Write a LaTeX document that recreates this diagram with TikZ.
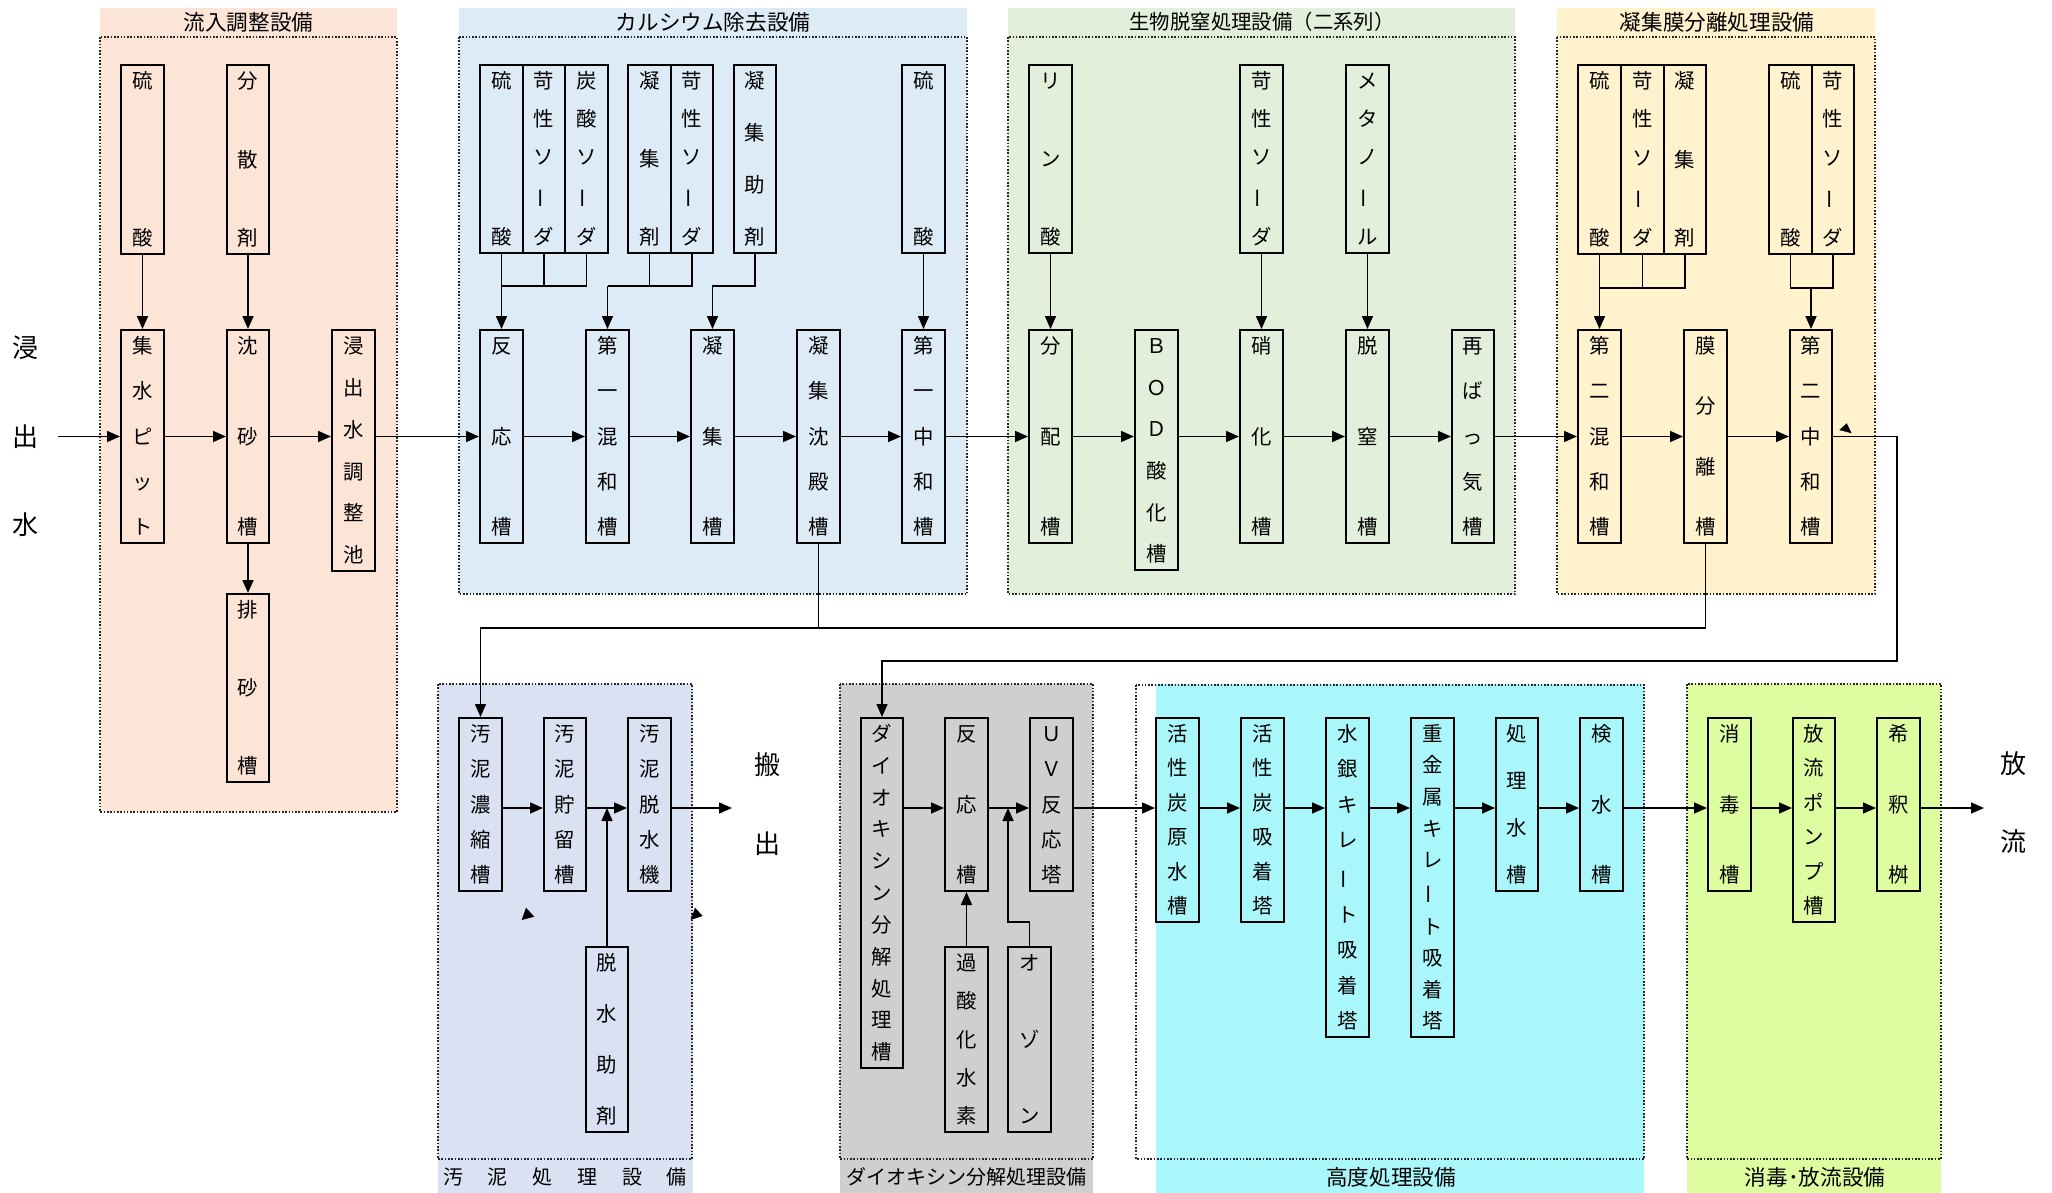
\documentclass[tikz,border=0pt]{standalone}
\usepackage{fontspec}
\setmainfont{Noto Sans CJK JP}
\usepackage{graphicx}
\usetikzlibrary{arrows.meta}
\definecolor{cA}{RGB}{252,228,214}
\definecolor{cB}{RGB}{221,235,247}
\definecolor{cC}{RGB}{226,239,218}
\definecolor{cD}{RGB}{255,242,204}
\definecolor{cE}{RGB}{217,225,242}
\definecolor{cF}{RGB}{208,206,206}
\definecolor{cG}{RGB}{170,247,251}
\definecolor{cH}{RGB}{221,253,160}
\newcommand\vb{\rotatebox[origin=c]{90}{ー}}
\newcommand\vtx[2]{\vbox to #1{\offinterlineskip\foreach \tkc [count=\tki] in {#2}{\ifnum\tki>1 \vfill\fi\hbox to 11pt{\hss\vrule width 0pt height 8.8pt depth 1.2pt\tkc\hss}}}}
\newcommand\tank[6]{%
 \pgfmathsetlengthmacro\tkw{(#4-#2)*0.5pt}%
 \pgfmathsetlengthmacro\tkh{(#5-#3)*0.5pt}%
 \pgfmathsetlengthmacro\tkv{(#5-#3-14)*0.5pt}%
 \node[tank, minimum width=\tkw, minimum height=\tkh] (#1) at ({(#2+#4)/2},{(#3+#5)/2}) {\vtx{\tkv}{#6}};}
\tikzset{
 tank/.style={draw, line width=1pt, inner sep=0pt, font=\fontsize{10.2pt}{12pt}\selectfont},
 arr/.style={line width=0.8pt, -{Triangle[length=6.5pt,width=5.5pt]}},
 ln/.style={line width=0.8pt},
 sect/.style={line width=0.8pt, dash pattern=on 0.8pt off 0.85pt, black!85},
 ttl/.style={inner sep=0pt, font=\fontsize{10.8pt}{12pt}\selectfont},
 big/.style={inner sep=0pt, align=center},
}
\begin{document}
\begin{tikzpicture}[x=0.5pt,y=-0.5pt]
\fill[white] (0,0) rectangle (2052,1193);
\useasboundingbox (0,0) rectangle (2052,1193);
% ---------- section backgrounds ----------
\fill[cA] (100,8) rectangle (397,812);
\draw[sect] (100,37) rectangle (397,812);
\fill[cB] (459,8) rectangle (967,594);
\draw[sect] (459,37) rectangle (967,594);
\fill[cC] (1008,8) rectangle (1515,594);
\draw[sect] (1008,37) rectangle (1515,594);
\fill[cD] (1557,8) rectangle (1875,594);
\draw[sect] (1557,37) rectangle (1875,594);
\fill[cE] (438,684) rectangle (693,1193);
\draw[sect] (438,684) rectangle (692,1159);
\fill[cF] (840,684) rectangle (1093,1193);
\draw[sect] (840,684) rectangle (1093,1159);
\fill[cG] (1156,684) rectangle (1644,1193);
\draw[sect] (1136,685) rectangle (1644,1159);
\fill[cH] (1687,684) rectangle (1941,1193);
\draw[sect] (1687,684) rectangle (1941,1159);
% ---------- titles ----------
\node[ttl] (tA) at (248.5,22) {流入調整設備};
\node[ttl] (tB) at (713,22) {カルシウム除去設備};
\node[ttl, font=\fontsize{10.2pt}{12pt}\selectfont] (tC) at (1262,22) {生物脱窒処理設備（二系列）};
\node[ttl] (tD) at (1717,22) {凝集膜分離処理設備};
\node[ttl, font=\fontsize{10pt}{12pt}\selectfont] (tE) at (565,1177) {汚\hspace{12.4pt}泥\hspace{12.4pt}処\hspace{12.4pt}理\hspace{12.4pt}設\hspace{12.4pt}備};
\node[ttl, font=\fontsize{10pt}{12pt}\selectfont] (tF) at (966,1177) {ダイオキシン分解処理設備};
\node[ttl] (tG) at (1391,1177) {高度処理設備};
\node[ttl] (tH) at (1815,1177) {消毒･放流設備};
% ---------- big labels ----------
\node[big, font=\fontsize{13pt}{44.25pt}\selectfont] (inlet) at (25,436.5) {浸\\出\\水};
\node[big, font=\fontsize{13pt}{39.5pt}\selectfont] (carry) at (767,804.5) {搬\\出};
\node[big, font=\fontsize{13pt}{39pt}\selectfont] (outlet) at (2013,803) {放\\流};
% ---------- section 1 ----------
\tank{c1}{121}{65}{164}{254}{硫,酸}
\tank{c2}{227}{65}{269}{254}{分,散,剤}
\tank{t1}{121}{330}{164}{543}{集,水,ピ,ッ,ト}
\tank{t2}{227}{330}{269}{543}{沈,砂,槽}
\tank{t3}{227}{594}{269}{782}{排,砂,槽}
\tank{t4}{332}{330}{375}{571}{浸,出,水,調,整,池}
% ---------- section 2 ----------
\tank{c3}{480}{65}{523}{253}{硫,酸}
\tank{c4}{523}{65}{565}{253}{苛,性,ソ,\vb,ダ}
\tank{c5}{565}{65}{608}{253}{炭,酸,ソ,\vb,ダ}
\tank{c6}{628}{65}{671}{253}{凝,集,剤}
\tank{c7}{671}{65}{713}{253}{苛,性,ソ,\vb,ダ}
\tank{c8}{734}{65}{776}{253}{凝,集,助,剤}
\tank{c9}{902}{65}{945}{253}{硫,酸}
\tank{t5}{480}{330}{523}{543}{反,応,槽}
\tank{t6}{586}{330}{629}{543}{第,一,混,和,槽}
\tank{t7}{691}{330}{734}{543}{凝,集,槽}
\tank{t8}{797}{330}{840}{543}{凝,集,沈,殿,槽}
\tank{t9}{902}{330}{945}{543}{第,一,中,和,槽}
% ---------- section 3 ----------
\tank{c10}{1029}{65}{1072}{253}{リ,ン,酸}
\tank{c11}{1240}{65}{1283}{253}{苛,性,ソ,\vb,ダ}
\tank{c12}{1346}{65}{1389}{253}{メ,タ,ノ,\vb,ル}
\tank{t10}{1029}{330}{1072}{543}{分,配,槽}
\tank{t11}{1135}{330}{1178}{570}{Ｂ,Ｏ,Ｄ,酸,化,槽}
\tank{t12}{1240}{330}{1283}{543}{硝,化,槽}
\tank{t13}{1346}{330}{1389}{543}{脱,窒,槽}
\tank{t14}{1452}{330}{1494}{543}{再,ば,っ,気,槽}
% ---------- section 4 ----------
\tank{c13}{1578}{65}{1621}{254}{硫,酸}
\tank{c14}{1621}{65}{1664}{254}{苛,性,ソ,\vb,ダ}
\tank{c15}{1664}{65}{1706}{254}{凝,集,剤}
\tank{c16}{1769}{65}{1812}{254}{硫,酸}
\tank{c17}{1812}{65}{1854}{254}{苛,性,ソ,\vb,ダ}
\tank{t15}{1578}{330}{1621}{543}{第,二,混,和,槽}
\tank{t16}{1684}{330}{1727}{543}{膜,分,離,槽}
\tank{t17}{1790}{330}{1832}{543}{第,二,中,和,槽}
% ---------- bottom row ----------
\tank{b1}{459}{718}{502}{891}{汚,泥,濃,縮,槽}
\tank{b2}{544}{718}{586}{891}{汚,泥,貯,留,槽}
\tank{b3}{628}{718}{671}{891}{汚,泥,脱,水,機}
\tank{b4}{586}{947}{628}{1132}{脱,水,助,剤}
\tank{b5}{861}{718}{903}{1068}{ダ,イ,オ,キ,シ,ン,分,解,処,理,槽}
\tank{b6}{945}{718}{988}{891}{反,応,槽}
\tank{b7}{1030}{718}{1073}{891}{Ｕ,Ｖ,反,応,塔}
\tank{b8}{945}{947}{988}{1132}{過,酸,化,水,素}
\tank{b9}{1008}{947}{1051}{1132}{オ,ゾ,ン}
\tank{b10}{1156}{718}{1199}{922}{活,性,炭,原,水,槽}
\tank{b11}{1241}{718}{1284}{922}{活,性,炭,吸,着,塔}
\tank{b12}{1326}{718}{1369}{1037}{水,銀,キ,レ,\vb,ト,吸,着,塔}
\tank{b13}{1411}{718}{1454}{1037}{重,金,属,キ,レ,\vb,ト,吸,着,塔}
\tank{b14}{1496}{718}{1538}{891}{処,理,水,槽}
\tank{b15}{1580}{718}{1623}{891}{検,水,槽}
\tank{b16}{1708}{718}{1751}{891}{消,毒,槽}
\tank{b17}{1793}{718}{1835}{922}{放,流,ポ,ン,プ,槽}
\tank{b18}{1877}{718}{1920}{891}{希,釈,桝}
% ---------- coordinates ----------
\coordinate (inS) at (58,436.5);
\coordinate (mB) at (0,808);
\coordinate (j1) at (501.5,286);
\coordinate (j2) at (607.5,286);
\coordinate (j3) at (712.5,286);
\coordinate (j4) at (1599.5,288);
\coordinate (j5) at (1811,288);
\coordinate (sj) at (480.5,628);
\coordinate (r1) at (1897,661);
\coordinate (oz) at (1008,922);
\coordinate (outS) at (732,808);
\coordinate (outR) at (1984,808);
% ---------- section 1 connectors ----------
\draw[arr] (inS) -- (t1.west);
\draw[arr] (c1.south) -- (t1.north);
\draw[arr] (c2.south) -- (t2.north);
\draw[arr] (t2.south) -- (t3.north);
\draw[arr] (t1.east) -- (t2.west);
\draw[arr] (t2.east) -- (t2.east -| t4.west);
\draw[arr] (t2.east -| t4.east) -- (t5.west);
% ---------- section 2 connectors ----------
\draw[ln] (c5.south) |- (j1);
\draw[ln] (c4.south) -- (c4.south |- j1);
\draw[arr] (c3.south) -- (t5.north);
\draw[ln] (c7.south) |- (j2);
\draw[ln] (c6.south) -- (c6.south |- j2);
\draw[arr] (j2) -- (t6.north);
\draw[arr] (c8.south) |- (j3) -- (t7.north);
\draw[arr] (c9.south) -- (t9.north);
\draw[arr] (t5.east) -- (t6.west);
\draw[arr] (t6.east) -- (t7.west);
\draw[arr] (t7.east) -- (t8.west);
\draw[arr] (t8.east) -- (t9.west);
\draw[arr] (t9.east) -- (t10.west);
% ---------- section 3 connectors ----------
\draw[arr] (c10.south) -- (t10.north);
\draw[arr] (c11.south) -- (t12.north);
\draw[arr] (c12.south) -- (t13.north);
\draw[arr] (t10.east) -- (t10.east -| t11.west);
\draw[arr] (t10.east -| t11.east) -- (t12.west);
\draw[arr] (t12.east) -- (t13.west);
\draw[arr] (t13.east) -- (t14.west);
\draw[arr] (t14.east) -- (t15.west);
% ---------- section 4 connectors ----------
\draw[ln] (c15.south) |- (j4);
\draw[ln] (c14.south) -- (c14.south |- j4);
\draw[arr] (c13.south) -- (t15.north);
\draw[ln] (c16.south) |- (j5);
\draw[ln] (c17.south) |- (j5);
\draw[arr] (j5) -- (t17.north);
\draw[arr] (t15.east) -- (t16.west);
\draw[arr] (t16.east) -- (t17.west);
% ---------- sludge and return lines ----------
\draw[arr] (t16.south) |- (sj) -- (b1.north);
\draw[ln] (t8.south) -- (t8.south |- sj);
\draw[arr] (t17.east) -| (r1) -| (b5.north);
\fill (1846.7,423.3) -- (1839.3,430) -- (1851.7,433.3) -- cycle;
% ---------- bottom connectors ----------
\draw[arr] (b1.east |- mB) -- (b2.west |- mB);
\draw[arr] (b2.east |- mB) -- (b3.west |- mB);
\draw[arr] (b3.east |- mB) -- (outS);
\draw[arr] (b4.north) -- (b4.north |- mB);
\fill (526,907.7) -- (534.3,916.7) -- (521.7,920) -- cycle;
\fill (695,907.7) -- (702.7,916) -- (690.7,920) -- cycle;
\draw[arr] (b5.east |- mB) -- (b6.west |- mB);
\draw[arr] (b6.east |- mB) -- (b7.west |- mB);
\draw[arr] (b8.north) -- (b6.south);
\draw[arr] (b9.north) |- (oz) -- (oz |- mB);
\draw[arr] (b7.east |- mB) -- (b10.west |- mB);
\draw[arr] (b10.east |- mB) -- (b11.west |- mB);
\draw[arr] (b11.east |- mB) -- (b12.west |- mB);
\draw[arr] (b12.east |- mB) -- (b13.west |- mB);
\draw[arr] (b13.east |- mB) -- (b14.west |- mB);
\draw[arr] (b14.east |- mB) -- (b15.west |- mB);
\draw[arr] (b15.east |- mB) -- (b16.west |- mB);
\draw[arr] (b16.east |- mB) -- (b17.west |- mB);
\draw[arr] (b17.east |- mB) -- (b18.west |- mB);
\draw[arr] (b18.east |- mB) -- (outR);
\end{tikzpicture}
\end{document}
